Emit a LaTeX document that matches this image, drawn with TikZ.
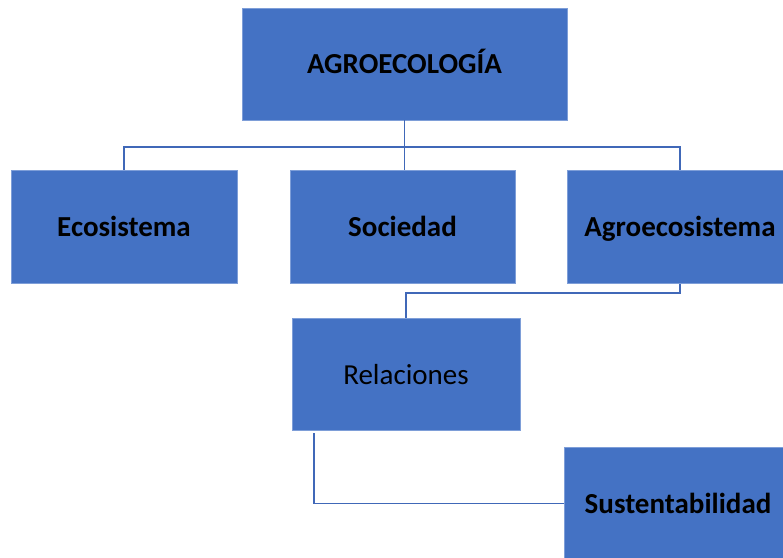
\documentclass[tikz,border=0pt]{standalone}
\usepackage{fontspec}
\setmainfont{Carlito}
\usepackage{tikz}
\usetikzlibrary{positioning}

\definecolor{agroblue}{HTML}{4472C4}
\definecolor{agroedge}{HTML}{7E9ED8}
\definecolor{agroline}{HTML}{4068B8}

\begin{document}
\begin{tikzpicture}[x=1pt, y=1pt]
    \tikzstyle{box}=[rectangle, fill=agroblue, draw=agroedge, line width=0.8pt, inner sep=0pt,
                     text height=22pt, text depth=2pt,
                     minimum width=226pt, minimum height=113pt, font=\fontsize{29}{35}\selectfont\bfseries]
    \tikzstyle{connect}=[draw=agroline, line width=1.8pt]

      \useasboundingbox (0,0) rectangle (783,557);

      \node[box, minimum width=325pt, minimum height=112pt] (agro) at (404.5,493) {AGROECOLOGÍA};
      \node[box] (eco) at (124,330) {Ecosistema};
      \node[box, minimum width=225pt] (soc) at (402.5,330) {Sociedad};
      \node[box] (agroeco) at (680,330) {Agroecosistema};
      \node[box, minimum width=228pt, minimum height=112pt, font=\fontsize{29}{35}\selectfont] (rel) at (406,183) {Relaciones};
      \node[box, minimum width=228pt] (sust) at (678,53.5) {Sustentabilidad};

      \coordinate (bus) at (0,410);

      \draw[connect] (agro.south) -- (agro.south |- soc.north);
      \draw[connect] (eco.north) -- (eco.north |- bus) -| (agroeco.north);
      \draw[connect] (agroeco.south) -- ++(0,-9) -| (rel.north);
      \draw[connect] ([xshift=22pt, yshift=-3pt]rel.south west) |- (sust.west);
    \end{tikzpicture}
\end{document}
